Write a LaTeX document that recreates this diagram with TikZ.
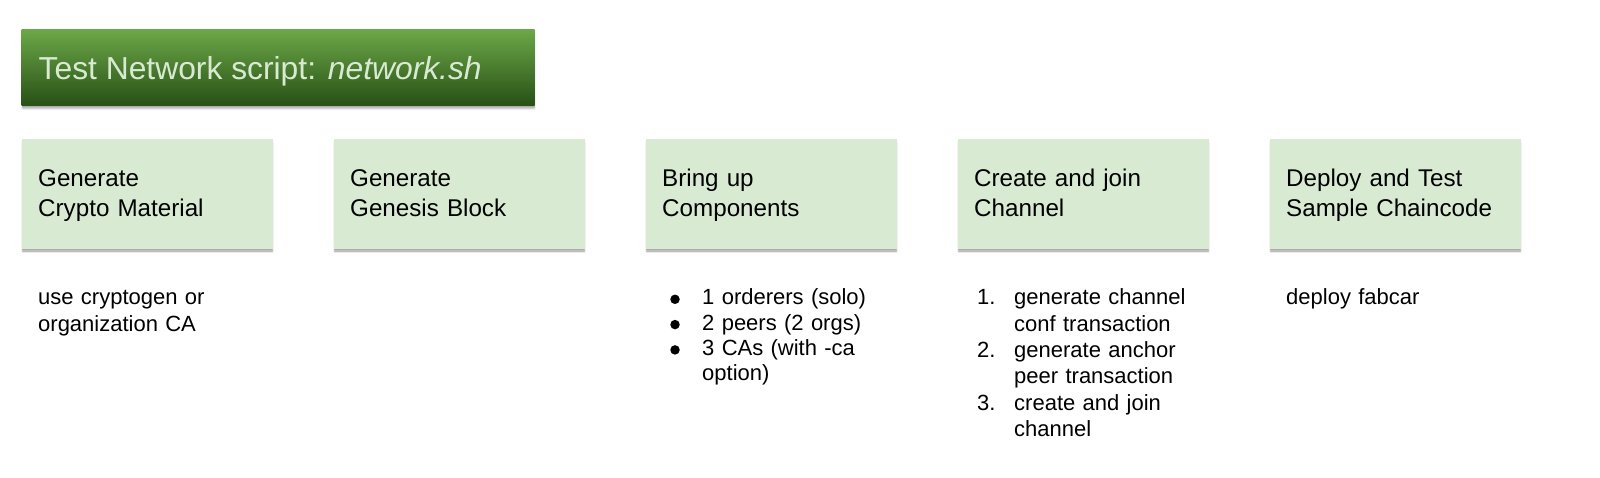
\documentclass[tikz,border=0pt]{standalone}
\usepackage{fontspec}
\setmainfont{Liberation Sans}
\usetikzlibrary{shadows}
\definecolor{stepfill}{HTML}{D9EAD3}
\definecolor{titletop}{RGB}{108,168,72}
\definecolor{titlebot}{RGB}{40,80,22}
\definecolor{titletext}{HTML}{D9EAD3}
\tikzset{
  softshadow/.style={
    drop shadow={shadow xshift=0pt,shadow yshift=-1pt,opacity=0.10,fill=black},
    drop shadow={shadow xshift=0pt,shadow yshift=-2.5pt,opacity=0.10,fill=black},
    drop shadow={shadow xshift=0pt,shadow yshift=-4pt,opacity=0.08,fill=black},
    drop shadow={shadow xshift=1pt,shadow yshift=-3pt,opacity=0.05,fill=black},
    drop shadow={shadow xshift=-1pt,shadow yshift=-3pt,opacity=0.05,fill=black}},
  titlebox/.style={softshadow, top color=titletop, bottom color=titlebot,
    anchor=north west, inner sep=0pt, minimum width=513pt, minimum height=76.5pt},
  stepbox/.style={softshadow, fill=stepfill, anchor=north west, inner sep=0pt,
    minimum width=251pt, minimum height=110.5pt},
  steptext/.style={anchor=base west, inner sep=0pt, align=left, text width=235pt,
    font=\fontsize{24.2}{30}\selectfont},
  notetext/.style={anchor=base west, inner sep=0pt, align=left, text width=200pt,
    font=\fontsize{22}{26.5}\selectfont},
  itemtext/.style={anchor=base west, inner sep=0pt, align=left, text width=200pt,
    font=\fontsize{22}{26.3}\selectfont},
  bulletdot/.style={circle, fill=black, inner sep=0pt, minimum size=9.5pt},
}
\begin{document}
\begin{tikzpicture}[x=1pt,y=-1pt]
\useasboundingbox (0,0) rectangle (1600,478);
% title
\node[titlebox] (title) at (21.5,29) {};
\node[anchor=base west, inner sep=0pt, text=titletext, font=\fontsize{31.8}{36}\selectfont]
  (titletxt) at (38.5,79.5) {Test Network script: \textit{network.sh}};
% step boxes
\foreach \i/\name/\la/\lb in {0/s1/Generate/Crypto Material,
    1/s2/Generate/Genesis Block,
    2/s3/Bring up/Components,
    3/s4/Create and join/Channel,
    4/s5/Deploy and Test/Sample Chaincode}{
  \node[stepbox] (\name) at ({21.5+312*\i},138.5) {};
  \node[steptext] (\name t) at ({38+312*\i},186.7) {\la\\\lb};
}
% notes
\node[notetext] (n1) at (38,305) {use cryptogen or\\organization CA};
\node[notetext] (n5) at (1286,305) {deploy fabcar};
% bullet list
\node[bulletdot] (b1) at (675,299.3) {};
\node[itemtext] (i1) at (702,305) {1 orderers (solo)};
\node[bulletdot] (b2) at (675,324.6) {};
\node[itemtext] (i2) at (702,330.3) {2 peers (2 orgs)};
\node[bulletdot] (b3) at (675,349.9) {};
\node[itemtext, font=\fontsize{22}{25.3}\selectfont] (i3) at (702,355.6) {3 CAs (with -ca\\option)};
% numbered list
\node[itemtext] (m1n) at (977,305) {1.};
\node[itemtext] (m1) at (1014,305) {generate channel\\conf transaction};
\node[itemtext] (m2n) at (977,357.6) {2.};
\node[itemtext] (m2) at (1014,357.6) {generate anchor\\peer transaction};
\node[itemtext] (m3n) at (977,410.2) {3.};
\node[itemtext] (m3) at (1014,410.2) {create and join\\channel};
\end{tikzpicture}
\end{document}
